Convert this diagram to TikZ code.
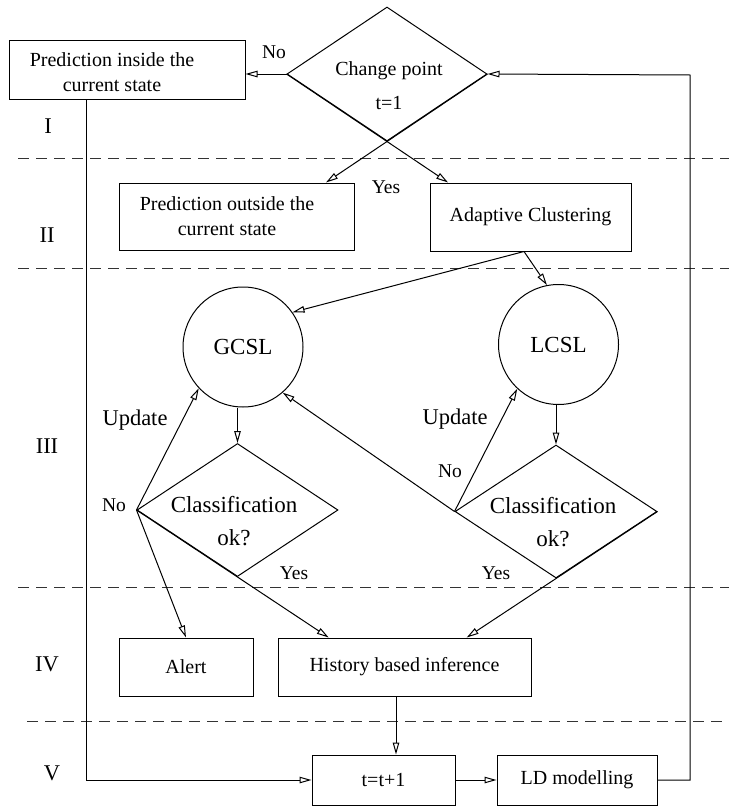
\documentclass[tikz,border=0pt]{standalone}
\usepackage{fontspec}
\setmainfont{Liberation Serif}
\usetikzlibrary{arrows.meta,shapes.geometric,calc}

\begin{document}
\begin{tikzpicture}[x=1pt,y=-1pt, line width=1pt,
  box/.style={draw, rectangle, inner sep=0pt, font=\fontsize{20}{25}\selectfont},
  dia/.style={draw, diamond, inner sep=0pt},
  blob/.style={draw, circle, inner sep=0pt, minimum size=120pt, font=\fontsize{23}{28}\selectfont},
  txt/.style={inner sep=0pt, align=center, font=\fontsize{20}{25}\selectfont},
  bigtxt/.style={inner sep=0pt, align=center, font=\fontsize{23}{33}\selectfont},
  lbl/.style={inner sep=0pt, font=\fontsize{19.5}{23}\selectfont},
  updlbl/.style={inner sep=0pt, font=\fontsize{22.5}{27}\selectfont},
  zone/.style={inner sep=0pt, font=\fontsize{22.5}{27}\selectfont},
  arr/.style={-{Triangle[open,length=12pt,width=6.5pt]}},
  sep/.style={dash pattern=on 11pt off 7pt, line width=0.9pt, black!80},
]
\useasboundingbox (0,0) rectangle (729,806);

% stage separators
\draw[sep] (18,158) -- (729,158);
\draw[sep] (18,268) -- (729,268);
\draw[sep] (18,587) -- (729,587);
\draw[sep] (27,721) -- (729,721);

% stage numbers
\node[zone] (s1) at (48,126) {I};
\node[zone] (s2) at (47,235) {II};
\node[zone] (s3) at (47,446) {III};
\node[zone] (s4) at (47,664) {IV};
\node[zone] (s5) at (52,773) {V};

% stage I
\node[dia, minimum width=200pt, minimum height=134pt] (cp) at (387,74) {};
\node[txt, font=\fontsize{20}{34}\selectfont] (cptext) at (389,86) {Change point\\t=1};
\node[box, minimum width=236pt, minimum height=59pt] (pi) at (127,70) {};
\node[txt] (pitext) at (112,72) {Prediction inside the\\current state};

% stage II
\node[box, minimum width=235pt, minimum height=67pt] (po) at (236.5,216.5) {};
\node[txt] (potext) at (227,216) {Prediction outside the\\current state};
\node[box, minimum width=201pt, minimum height=68pt] (ac) at (530.5,217) {Adaptive Clustering};

% stage III
\node[blob] (gcsl) at (243,347) {GCSL};
\node[blob] (lcsl) at (558.5,344.5) {LCSL};
\node[dia, minimum width=201pt, minimum height=133pt] (gd) at (237.5,510) {};
\node[bigtxt] (gdtext) at (234,521) {Classification\\ok?};
\node[dia, minimum width=202pt, minimum height=133pt] (ld) at (556,511.5) {};
\node[bigtxt] (ldtext) at (553,522) {Classification\\ok?};

% stage IV
\node[box, minimum width=134pt, minimum height=58pt] (alert) at (186,667) {Alert};
\node[box, minimum width=253pt, minimum height=58pt] (hbi) at (404.5,667) {History based inference};

% stage V
\node[box, minimum width=143pt, minimum height=50pt] (tt) at (383.5,780) {t=t+1};
\node[box, minimum width=160pt, minimum height=50pt] (ldm) at (577,780) {LD modelling};

% edge labels
\node[lbl] (lno1) at (274,52) {No};
\node[lbl] (lyes1) at (386,187) {Yes};
\node[updlbl] (lupd1) at (135,420) {Update};
\node[updlbl] (lupd2) at (455,419) {Update};
\node[lbl] (lno2) at (114,505) {No};
\node[lbl] (lno3) at (450,471) {No};
\node[lbl] (lyes2) at (294,573) {Yes};
\node[lbl] (lyes3) at (496,573) {Yes};

% connectors
\draw[arr] (cp.west) -- (cp.west -| pi.east);
\draw[arr] (cp.west) -- (intersection of cp.west--cp.south and ac.north west--ac.north east);
\draw[arr] (cp.east) -- (intersection of cp.east--cp.south and po.north west--po.north east);

\coordinate (acout) at ([xshift=-6.5pt]ac.south);
\draw[arr] (acout) -- (gcsl.35);
\draw[arr] (acout) -- (lcsl.101);

\draw[arr] (gcsl.south -| gd.north) -- (gd.north);
\draw[arr] (lcsl.south -| ld.north) -- (ld.north);

\draw[arr] (gd.west) -- (gcsl.223);
\draw[arr] (gd.west) -- (alert.north);
\draw[arr] (gd.west) -- (intersection of gd.west--gd.south and hbi.north west--hbi.north east);

\draw[arr] (ld.west) -- (gcsl.311);
\draw[arr] (ld.west) -- (lcsl.227);
\draw[arr] (ld.east) -- (intersection of ld.east--ld.south and hbi.north west--hbi.north east);

\coordinate (hbiout) at ([xshift=-8.5pt]hbi.south);
\draw[arr] (hbiout) -- (hbiout |- tt.north);
\draw[arr] (tt.east) -- (ldm.west);

\coordinate (loopcorner) at (690,75);
\draw[arr] (ldm.east) -| (loopcorner) -- (cp.east);

\coordinate (picorner) at (86,780);
\draw[arr] (pi.south -| picorner) -- (picorner) -- (tt.west);
\end{tikzpicture}
\end{document}
